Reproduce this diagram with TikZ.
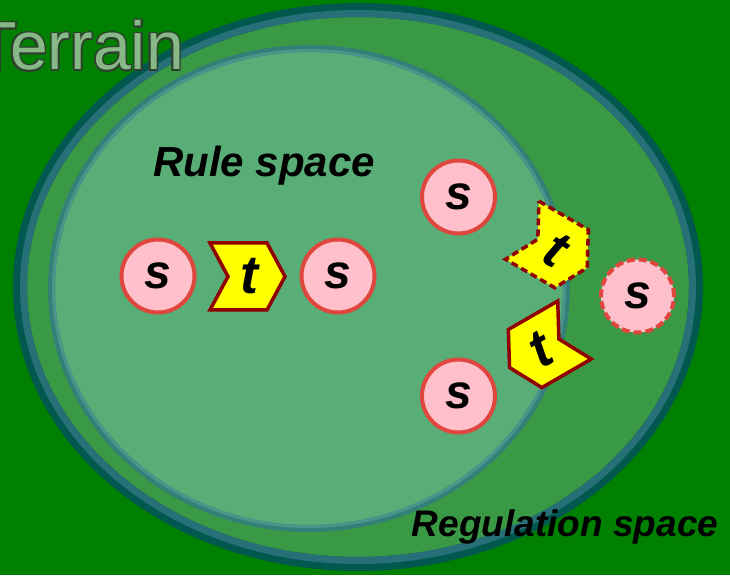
\documentclass[tikz,border=0pt]{standalone}
\usepackage{fontspec}
\setmainfont{Liberation Sans}
\usepackage{tikz}
\usetikzlibrary{positioning}
\definecolor{fieldgreen}{RGB}{0,128,0}
\definecolor{regfill}{RGB}{58,153,68}
\definecolor{regrimdark}{RGB}{0,88,78}
\definecolor{regrim}{RGB}{40,112,120}
\definecolor{rulefill}{RGB}{88,174,118}
\definecolor{rulerim}{RGB}{50,128,120}
\definecolor{rulerimlt}{RGB}{75,148,140}
\definecolor{spink}{RGB}{255,192,203}
\definecolor{sred}{RGB}{222,70,62}
\definecolor{tyellow}{RGB}{255,255,0}
\definecolor{tred}{RGB}{145,0,0}
\definecolor{terrtext}{RGB}{153,204,153}
\definecolor{terrline}{RGB}{45,65,45}
\newcommand{\chevpath}{(-37.5,33.5) -- (19.5,33.5) -- (37.5,0) -- (19.5,-33.5) -- (-37.5,-33.5) -- (-19.5,0) -- cycle}
\tikzset{
  snode/.style={circle, draw=sred, line width=4pt, fill=spink, minimum size=73pt, inner sep=0pt,
      font=\fontsize{48}{48}\selectfont\bfseries\itshape},
  sghost/.style={snode, dash pattern=on 8pt off 4pt},
  tbox/.style={fill=tyellow, draw=tred, line width=3.5pt, line join=miter},
  tlab/.style={font=\fontsize{54}{54}\selectfont\bfseries\itshape, inner sep=0pt},
  spacelab/.style={font=\fontsize{#1}{#1}\selectfont\bfseries\itshape, inner sep=0pt, anchor=base},
  ttl/.style={font=\fontsize{68}{68}\selectfont, inner sep=0pt, anchor=base east},
}

\begin{document}
\begin{tikzpicture}[x=1pt, y=1pt]
  \useasboundingbox (0,0) rectangle (730,575);
  \fill[fieldgreen] (0,0) rectangle (730,575);
  % regulation space
  \fill[regfill] (358,288) ellipse [x radius=338, y radius=277];
  \draw[regrimdark, line width=14pt] (358,288) ellipse [x radius=338, y radius=277];
  \draw[regrim, line width=7pt] (358,288) ellipse [x radius=334.5, y radius=273.5];
  % rule space
  \fill[rulefill] (309,286.5) ellipse [x radius=257.5, y radius=240];
  \draw[rulerim, line width=7pt] (309,286.5) ellipse [x radius=257.5, y radius=240];
  \draw[rulerimlt, line width=3pt] (309,286.5) ellipse [x radius=255.5, y radius=238];
  % title, outlined
  \foreach \dx/\dy [count=\k] in {1.6/0,-1.6/0,0/1.6,0/-1.6,1.1/1.1,1.1/-1.1,-1.1/1.1,-1.1/-1.1}
    \node[ttl, text=terrline] (terrain\k) at (184+\dx,505+\dy) {Terrain};
  \node[ttl, text=terrtext, text opacity=0.85] (terrain) at (184,505) {Terrain};
  \node[spacelab=42] (rule) at (264,398) {Rule space};
  \node[spacelab=37] (reg) at (565,38) {Regulation space};
  % states
  \node[snode] (s1) at (158,299) {s};
  \node[snode] (s2) at (338,299) {s};
  \node[snode] (s3) at (458.5,378) {s};
  \node[snode] (s4) at (458.5,179) {s};
  \node[sghost] (s5) at (637.5,279) {s};
  % transitions
  \begin{scope}[shift={(247.5,298.5)}]
    \draw[tbox] \chevpath;
    \node[tlab] (t1) at (2,0) {t};
  \end{scope}
  \begin{scope}[shift={(554.7,326)}, rotate=-30]
    \draw[tbox, dash pattern=on 7pt off 4pt] \chevpath;
    \node[tlab, rotate=-30] (t2) at (2,0) {t};
  \end{scope}
  \begin{scope}[shift={(542,226.2)}, rotate=30, xscale=-1]
    \draw[tbox] \chevpath;
    \node[tlab, rotate=30] (t3) at (2,0) {t};
  \end{scope}
\end{tikzpicture}
\end{document}
